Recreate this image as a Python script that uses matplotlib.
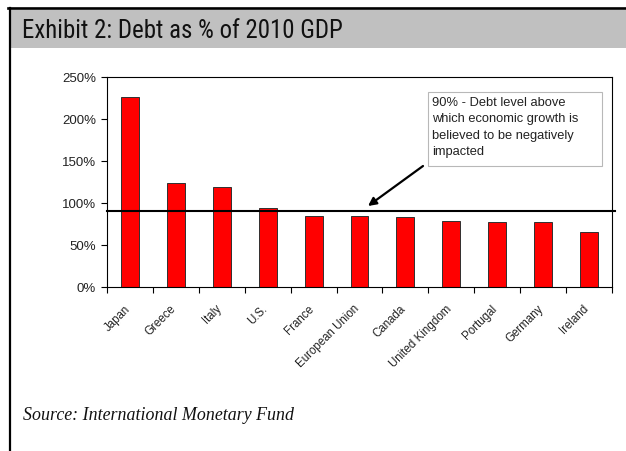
import matplotlib.pyplot as plt
from matplotlib.patches import Rectangle
from matplotlib.ticker import FuncFormatter
from matplotlib.transforms import ScaledTranslation
from matplotlib import font_manager

# data
countries = ['Japan', 'Greece', 'Italy', 'U.S.', 'France', 'European Union',
             'Canada', 'United Kingdom', 'Portugal', 'Germany', 'Ireland']
debt_pct = [226.5, 123.8, 119.4, 93.7, 84.1, 84.5, 83.0, 78.2, 77.0, 76.8, 65.9]
threshold = 90

W, H = 626, 452
fig = plt.figure(figsize=(W / 100, H / 100), dpi=100)
fig.patch.set_facecolor('white')

# pick a narrow face for the title if one is installed
names = {f.name for f in font_manager.fontManager.ttflist}
narrow = [n for n in ['Liberation Sans Narrow', 'Roboto Condensed', 'Open Sans Condensed',
                      'DejaVu Sans Condensed'] if n in names]
title_font = narrow[0] if narrow else 'Liberation Sans'
title_size = 17.9 if narrow else 15.5

# header bar + frame lines
fig.add_artist(Rectangle((11 / W, 1 - 49 / H), 1 - 11 / W, 38 / H,
                         transform=fig.transFigure, fc='#c0c0c0', ec='none'))
fig.add_artist(plt.Line2D([8 / W, 1], [1 - 8.5 / H, 1 - 8.5 / H],
                          transform=fig.transFigure, color='black', lw=1.9))
fig.add_artist(plt.Line2D([9.8 / W, 9.8 / W], [0, 1 - 8.5 / H],
                          transform=fig.transFigure, color='black', lw=1.6))
fig.text(22 / W, 1 - 38.3 / H, 'Exhibit 2: Debt as % of 2010 GDP',
         family=title_font, fontsize=title_size, fontstretch='condensed',
         va='baseline', ha='left', color='#111111')

# chart
ax = fig.add_axes([107 / W, 1 - 288 / H, (612 - 107) / W, (288 - 78) / H])
x = range(len(countries))
ax.bar(x, debt_pct, width=0.39, color='#ff0000', edgecolor='#303030', lw=0.7, zorder=2)
ax.axhline(threshold, xmin=0, xmax=1.006, color='black', lw=1.5, clip_on=False, zorder=3)

ax.set_xlim(-0.5, len(countries) - 0.5)
ax.set_ylim(0, 250)
ax.set_yticks(range(0, 251, 50))
ax.yaxis.set_major_formatter(FuncFormatter(lambda v, p: '%d%%' % v))
ax.tick_params(axis='y', labelsize=9.5, length=4, width=0.8, pad=4,
               labelfontfamily='Liberation Sans', labelcolor='#222222')

# ticks on category boundaries, labels under the bars
ax.set_xticks([i - 0.5 for i in range(len(countries) + 1)])
ax.set_xticklabels([])
ax.tick_params(axis='x', which='major', length=4, width=0.8)
lab_tr = ax.get_xaxis_transform() + ScaledTranslation(-6 / 100, -15 / 100, fig.dpi_scale_trans)
for i, name in enumerate(countries):
    ax.text(i, 0, name, transform=lab_tr, rotation=45, rotation_mode='anchor',
            ha='right', va='top', fontsize=8.3, family='Liberation Sans', color='#222222')
for s in ax.spines.values():
    s.set_linewidth(0.8)

# annotation box
fig.add_artist(Rectangle((428 / W, 1 - 167 / H), (602 - 428) / W, (167 - 93) / H,
                         transform=fig.transFigure, fc='white', ec='#b8b8b8', lw=0.8))
fig.text(432 / W, 1 - 97 / H,
         '90% - Debt level above\nwhich economic growth is\nbelieved to be negatively\nimpacted',
         family='Liberation Sans', fontsize=9.3, va='top', ha='left',
         linespacing=1.5, color='#222222')
ax.annotate('', xy=(368 / W, 1 - 207 / H), xytext=(423 / W, 1 - 167 / H),
            xycoords='figure fraction', textcoords='figure fraction',
            arrowprops=dict(arrowstyle='-|>', color='black', lw=1.6,
                            mutation_scale=12, shrinkA=0, shrinkB=0))

fig.text(23 / W, 1 - 420 / H, 'Source: International Monetary Fund',
         family='Liberation Serif', style='italic', fontsize=12.9,
         va='baseline', ha='left', color='#111111')

fig.savefig('out.png', dpi=100)
